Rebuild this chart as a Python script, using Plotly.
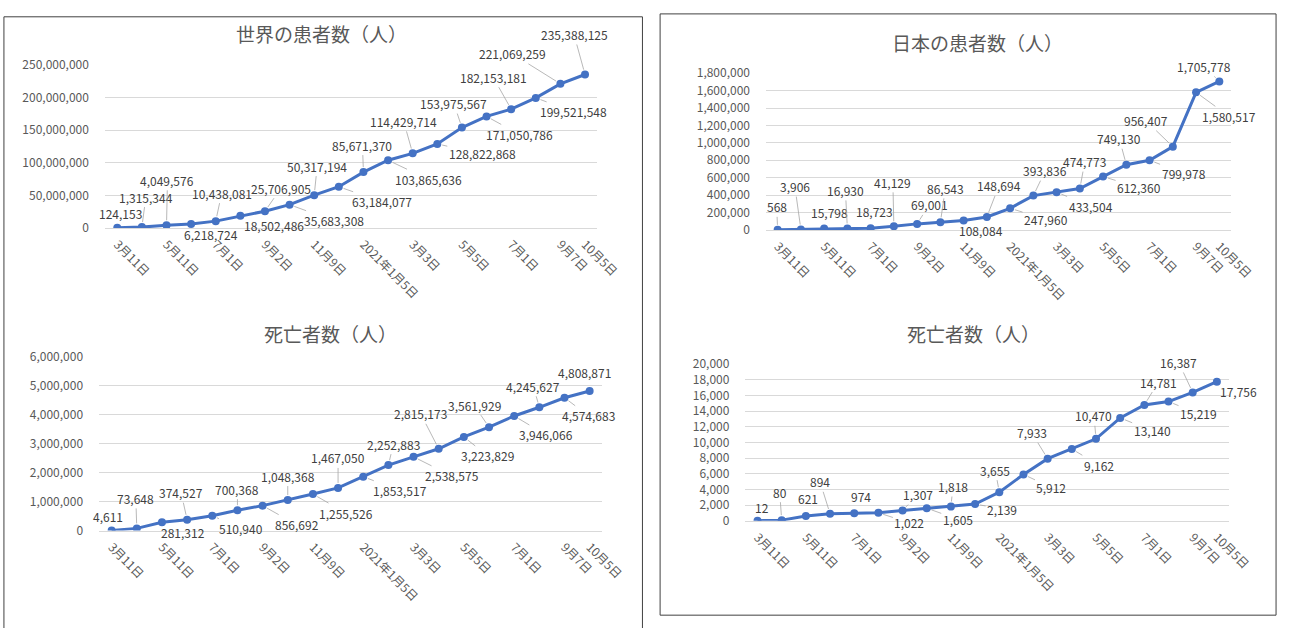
import math
import plotly.graph_objects as go

# ---------------- data ----------------
TICK_POS = [0, 2, 4, 6, 8, 10, 12, 14, 16, 18, 19]
TICK_LABELS = ["3月11日", "5月11日", "7月1日", "9月2日", "11月9日", "2021年1月5日",
               "3月3日", "5月5日", "7月1日", "9月7日", "10月5日"]

world_cases = [124153, 1315344, 4049576, 6218724, 10438081, 18502486, 25706905,
               35683308, 50317194, 63184077, 85671370, 103865636, 114429714,
               128822868, 153975567, 171050786, 182153181, 199521548, 221069259,
               235388125]
world_deaths = [4611, 73648, 281312, 374527, 510940, 700368, 856692, 1048368,
                1255526, 1467050, 1853517, 2252883, 2538575, 2815173, 3223829,
                3561929, 3946066, 4245627, 4574683, 4808871]
japan_cases = [568, 3906, 15798, 16930, 18723, 41129, 69001, 86543, 108084,
               148694, 247960, 393836, 433504, 474773, 612360, 749130, 799978,
               956407, 1580517, 1705778]
japan_deaths = [12, 80, 621, 894, 974, 1022, 1307, 1605, 1818, 2139, 3655, 5912,
                7933, 9162, 10470, 13140, 14781, 15219, 16387, 17756]

titles = ["世界の患者数（人）", "死亡者数（人）", "日本の患者数（人）", "死亡者数（人）"]
y_max = [250000000, 6000000, 1800000, 20000]
y_step = [50000000, 1000000, 200000, 2000]

# ---------------- layout (pixels) ----------------
W, H = 1304, 628
# plot areas: x0, x1, y_top, y_bottom
areas = [(107, 609, 56.5, 224), (101, 614, 356, 535),
         (781, 1255, 65, 226), (760, 1253, 364, 525)]
title_pos = [(328, 24), (337, 332), (997, 33), (993, 333)]

# data-label offsets (pixels, relative to marker)
off_wc = [(3, -14), (4, -30), (1, -45), (20, 11), (6, -28), (34, 10), (16, -23),
          (44, 16), (3, -29), (43, 15), (-1, -27), (40, 19), (-9, -32), (45, 10),
          (-8, -24), (33, 18), (-18, -32), (38, 14), (-48, -30), (-11, -40)]
off_wd = [(-4, -14), (-1, -30), (21, 10), (-6, -27), (29, 13), (0, -21), (34, 19),
          (0, -24), (33, 19), (0, -30), (37, 14), (5, -21), (38, 19), (-18, -35),
          (24, 19), (-15, -22), (32, 19), (-6, -21), (24, 18), (-5, -18)]
off_jc = [(-1, -23), (-6, -43), (5, -16), (-2, -38), (4, -17), (-1, -44), (12, -19),
          (5, -34), (17, 10), (12, -31), (36, 11), (12, -25), (34, 14), (5, -27),
          (36, 11), (-7, -26), (34, 13), (-27, -26), (33, 24), (-15, -15)]
off_jd = [(4, -13), (-2, -28), (2, -17), (-10, -32), (7, -17), (31, 10), (15, -16),
          (31, 11), (2, -20), (27, 5), (-4, -22), (28, 13), (-16, -26), (27, 16),
          (-2, -23), (32, 13), (14, -23), (30, 12), (-14, -30), (22, 10)]

series = [world_cases, world_deaths, japan_cases, japan_deaths]
offsets = [off_wc, off_wd, off_jc, off_jd]

FONT = "Noto Sans CJK JP, Noto Sans, sans-serif"
BLUE = "#4472C4"
TXT = "#595959"

fig = go.Figure()
annotations = []
layout_axes = {}

for k in range(4):
    sfx = "" if k == 0 else str(k + 1)
    xa, ya = "x" + sfx, "y" + sfx
    vals = series[k]
    xs = list(range(len(vals)))
    fig.add_trace(go.Scatter(
        x=xs, y=vals, xaxis=xa, yaxis=ya, mode="lines+markers",
        line=dict(color=BLUE, width=3), marker=dict(color=BLUE, size=8),
        hoverinfo="skip", showlegend=False))
    x0, x1, yt, yb = areas[k]
    layout_axes["xaxis" + sfx] = dict(
        domain=[x0 / W, x1 / W], range=[-0.5, len(vals) - 0.5], anchor=ya,
        tickmode="array", tickvals=TICK_POS, ticktext=TICK_LABELS, tickangle=45,
        showgrid=False, zeroline=False, showline=True, linecolor="#D9D9D9",
        linewidth=1, ticks="", ticklabelstandoff=4,
        tickfont=dict(family=FONT, size=12, color=TXT), fixedrange=True)
    layout_axes["yaxis" + sfx] = dict(
        domain=[1 - yb / H, 1 - yt / H], range=[0, y_max[k]], anchor=xa,
        tickmode="linear", tick0=0, dtick=y_step[k], tickformat=",d",
        showgrid=True, gridcolor="#D9D9D9", gridwidth=1, zeroline=False,
        showline=False, ticks="", ticklabelstandoff=15,
        tickfont=dict(family=FONT, size=12, color=TXT), fixedrange=True)
    tx, ty = title_pos[k]
    annotations.append(dict(
        text=titles[k], x=tx / W, y=1 - ty / H, xref="paper", yref="paper",
        showarrow=False, xanchor="center", yanchor="middle",
        font=dict(family=FONT, size=19, color=TXT)))
    for i, v in enumerate(vals):
        dx, dy = offsets[k][i]
        base = dict(text=f"{v:,}", x=i, y=v, xref=xa, yref=ya,
                    font=dict(family=FONT, size=12, color="#404040"))
        if math.hypot(dx, dy) > 19:
            base.update(showarrow=True, ax=dx, ay=dy, arrowhead=0,
                        arrowwidth=0.8, arrowcolor="#A6A6A6", standoff=5)
        else:
            base.update(showarrow=False, xshift=dx, yshift=-dy)
        annotations.append(base)

shapes = [
    dict(type="rect", xref="paper", yref="paper", x0=4 / W, x1=655 / W,
         y0=-0.02, y1=1 - 7 / H, line=dict(color="#404040", width=1)),
    dict(type="rect", xref="paper", yref="paper", x0=673 / W, x1=1301 / W,
         y0=1 - 622 / H, y1=1 - 4 / H, line=dict(color="#404040", width=1)),
]

fig.update_layout(
    width=W, height=H, autosize=False,
    margin=dict(l=0, r=0, t=0, b=0),
    paper_bgcolor="white", plot_bgcolor="white",
    annotations=annotations, shapes=shapes, **layout_axes)

post = (
    "document.documentElement.style.margin='0';"
    "document.documentElement.style.padding='0';"
    "document.documentElement.style.overflow='hidden';"
    "document.body.style.margin='0';"
    "document.body.style.padding='0';"
    "document.body.style.overflow='hidden';"
    "var gd=document.getElementById('{plot_id}');"
    "gd.style.position='fixed';gd.style.left='0px';gd.style.top='0px';"
)
fig.write_html("out.html", config={"displayModeBar": False}, post_script=post)
